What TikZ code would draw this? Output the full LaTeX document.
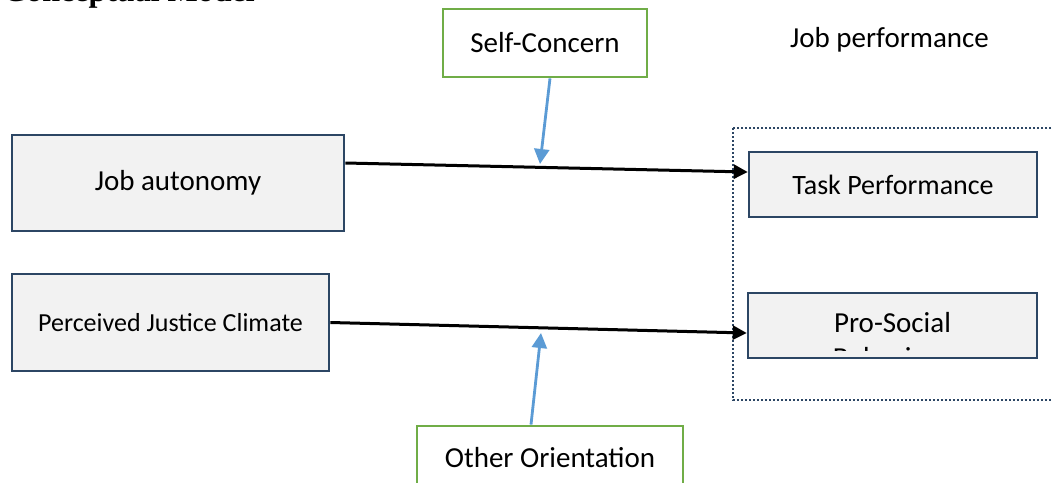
\documentclass[tikz,border=0pt]{standalone}
\usepackage{fontspec}
\setmainfont{Carlito}
\newfontfamily\headfont{Liberation Serif}
\usetikzlibrary{arrows.meta}

\definecolor{boxfill}{RGB}{242,242,242}
\definecolor{boxline}{RGB}{44,70,100}
\definecolor{modgreen}{RGB}{112,173,71}
\definecolor{modblue}{RGB}{91,155,213}

\begin{document}
\begin{tikzpicture}[
		x=1pt, y=-1pt,
		every node/.style={inner sep=0pt, font=\fontsize{29}{35}\selectfont},
		varbox/.style={rectangle, draw=boxline, fill=boxfill, line width=2.6pt},
		modbox/.style={rectangle, draw=modgreen, fill=white, line width=2.8pt},
		effect/.style={line width=3pt, -{Triangle[length=14pt, width=14pt]}},
		moderate/.style={draw=modblue, line width=2.8pt, -{Triangle[length=15pt, width=15pt]}}
	]
  \clip (0,0) rectangle (1052,482);
  \node (title) [anchor=base west, font=\headfont\bfseries\fontsize{32}{38}\selectfont] at (3,1) {Conceptual Model};
  % dependent variables inside the dotted frame
  \draw [boxline, line width=2.5pt, dash pattern=on 2.2pt off 1.8pt] (733,128) rectangle (1080,400);
  \node (jp_label) [anchor=base] at (889.5,47) {Job performance};
  \node (tp) [varbox, minimum width=288pt, minimum height=65pt, font=\fontsize{28}{34}\selectfont] at (893,184.5) {Task Performance};
  \node (ps) [varbox, minimum width=289pt, minimum height=65pt] at (892.5,325.5) {};
  \node (ps_label) [anchor=base] at (892.5,332) {Pro-Social};
  \begin{scope}
    \clip (760,300) rectangle (1030,350);
    \node (ps_label2) [anchor=base] at (892.5,367) {Behaviour};
  \end{scope}
  % independent variables
  \node (ja) [varbox, minimum width=332pt, minimum height=96pt] at (178,183) {Job autonomy};
  \node (pjc) [varbox, minimum width=317pt, minimum height=97pt, font=\fontsize{26}{31}\selectfont] at (170.5,322.5) {Perceived Justice Climate};
  % moderators
  \node (sc) [modbox, minimum width=204pt, minimum height=68pt] at (545,43) {Self-Concern};
  \node (oo) [modbox, minimum width=266pt, minimum height=64pt] at (550,458) {Other Orientation};
  \coordinate (m_top) at (540,164);
  \coordinate (m_bottom) at (541,333);
  \draw [effect] ([yshift=20pt]ja.east) -- ([yshift=12.5pt]tp.west);
  \draw [effect] (pjc.east) -- ([yshift=-7.5pt]ps.west);
  \draw [moderate] ([xshift=5pt]sc.south) -- (m_top);
  \draw [moderate] ([xshift=-19pt]oo.north) -- (m_bottom);
\end{tikzpicture}
\end{document}
